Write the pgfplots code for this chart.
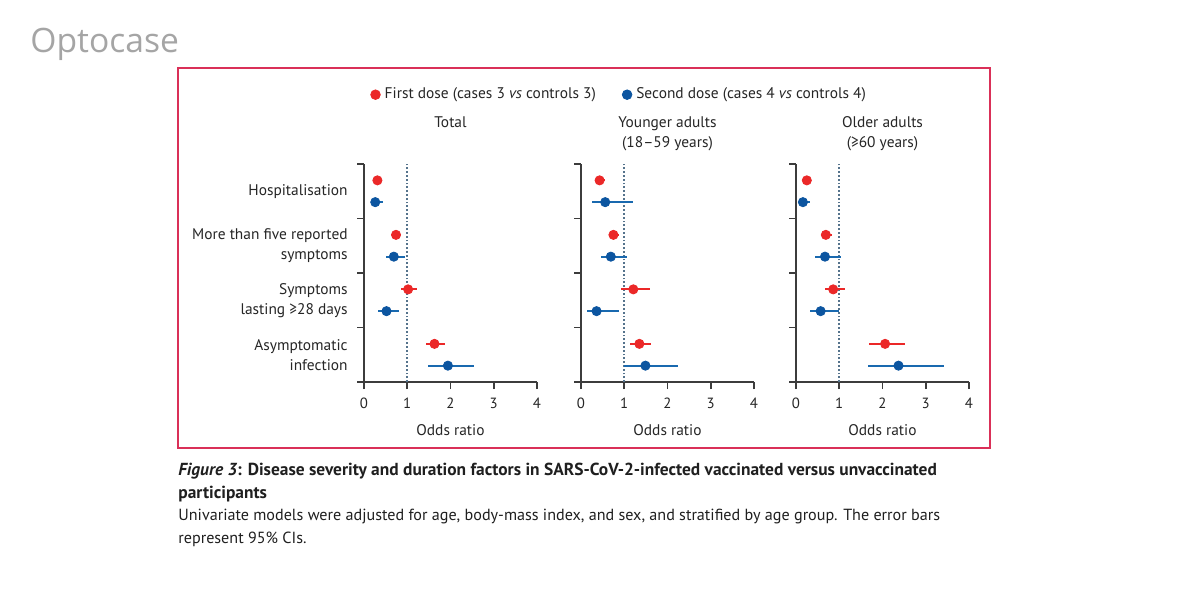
\documentclass[border=0pt]{standalone}
\usepackage{fontspec}
\setmainfont{PT Sans}
\newfontfamily\logofont{Open Sans}
\usepackage{pgfplots}
\pgfplotsset{compat=1.18}
\usepackage{pgfplotstable}
\definecolor{lred}{RGB}{235,40,40}
\definecolor{lblue}{RGB}{12,85,160}
\definecolor{lblueeb}{RGB}{25,105,175}
\definecolor{refline}{RGB}{85,115,140}
\definecolor{framecol}{RGB}{218,48,88}
\definecolor{axisgray}{RGB}{60,60,60}
\definecolor{logogray}{RGB}{165,165,165}
\newcommand\fs{\fontsize{7.7pt}{10pt}\selectfont}
\newcommand\fst{\fontsize{7.4pt}{10pt}\selectfont}

% y: first dose at 4-(i+0.3), second dose at 4-(i+0.7)
% columns: y, estimate, minus, plus
\pgfplotstableread{
y x lo hi
3.7 0.31 0.05 0.05
2.7 0.74 0.08 0.08
1.7 1.02 0.17 0.21
0.7 1.63 0.20 0.24
}\totA
\pgfplotstableread{
y x lo hi
3.3 0.26 0.09 0.18
2.3 0.69 0.17 0.25
1.3 0.52 0.20 0.30
0.3 1.94 0.45 0.60
}\totB
\pgfplotstableread{
y x lo hi
3.7 0.43 0.11 0.13
2.7 0.75 0.09 0.14
1.7 1.21 0.28 0.38
0.7 1.35 0.21 0.27
}\youA
\pgfplotstableread{
y x lo hi
3.3 0.56 0.30 0.65
2.3 0.69 0.23 0.37
1.3 0.36 0.21 0.51
0.3 1.49 0.50 0.75
}\youB
\pgfplotstableread{
y x lo hi
3.7 0.25 0.06 0.06
2.7 0.69 0.11 0.15
1.7 0.86 0.18 0.28
0.7 2.06 0.38 0.45
}\oldA
\pgfplotstableread{
y x lo hi
3.3 0.16 0.07 0.16
2.3 0.67 0.23 0.36
1.3 0.57 0.25 0.43
0.3 2.37 0.70 1.05
}\oldB

\tikzset{catlabel/.style={anchor=east, align=right, font=\fs, text=black!85, inner sep=0pt, xshift=-8pt}}

\pgfplotsset{
  panel/.style={
    scale only axis, width=86.5pt, height=109pt,
    xmin=0, xmax=4, ymin=0, ymax=4,
    axis x line=bottom, axis y line=left,
    axis line style={-, axisgray, line width=0.9pt},
    xtick={0,1,2,3,4}, ytick={0,1,2,3,4}, yticklabels={},
    tick align=outside, major tick length=3.5pt,
    tick style={axisgray, line width=0.9pt},
    /pgf/number format/assume math mode=true,
    ticklabel style={font=\fst, text=black!85},
    xticklabel style={yshift=-1pt},
    xlabel={Odds ratio},
    xlabel style={at={(0.5,0)}, anchor=base, yshift=-26.5pt, font=\fs, text=black!85},
    title style={at={(0.5,1)}, anchor=north, yshift=18pt, align=center, inner sep=0pt, font=\fs, text=black!85},
    clip=false,
  },
  firstdose/.style={only marks, mark=*, mark size=2.3pt, color=lred,
    mark options={fill=lred, draw=none},
    error bars/.cd, x dir=both, x explicit, error mark=none,
    error bar style={line width=1pt, lred}},
  seconddose/.style={only marks, mark=*, mark size=2.3pt, color=lblue,
    mark options={fill=lblue, draw=none},
    error bars/.cd, x dir=both, x explicit, error mark=none,
    error bar style={line width=1pt, lblueeb}},
}

\begin{document}
\begin{tikzpicture}[x=0.5pt, y=-0.5pt]
\fill[white] (0,0) rectangle (1200,600);
\path[use as bounding box] (0,0) rectangle (1200,600);

% logo
\node[anchor=base west, inner sep=0pt, text=logogray, font=\logofont\fontsize{16.8pt}{18pt}\selectfont] at (30,52) {Optocase};

% frame
\draw[framecol, line width=1pt] (178,68) rectangle (990,448);

% Panel 1: Total
\begin{axis}[panel, at={(182pt,-191pt)}, anchor=south west, title={Total}]
\addplot[refline, densely dotted, line width=0.9pt, forget plot] coordinates {(1,0) (1,4)};
\addplot[firstdose] table[x=x, y=y, x error minus=lo, x error plus=hi] {\totA};
\addplot[seconddose] table[x=x, y=y, x error minus=lo, x error plus=hi] {\totB};
\node[catlabel] at (rel axis cs:0,0.875) {Hospitalisation};
\node[catlabel] at (rel axis cs:0,0.625) {More than five reported\\symptoms};
\node[catlabel] at (rel axis cs:0,0.375) {Symptoms\\lasting ≥28 days};
\node[catlabel] at (rel axis cs:0,0.125) {Asymptomatic\\infection};
\end{axis}

% Panel 2: Younger adults
\begin{axis}[panel, at={(290.5pt,-191pt)}, anchor=south west, title={Younger adults\\(18–59 years)},
  legend style={at={(0.226,1.318)}, anchor=center, draw=none, fill=none, legend columns=2,
    font=\fs, text=black!85, inner sep=0pt,
    /tikz/every even column/.append style={column sep=11pt}},
  legend image code/.code={\fill[#1] (0pt,0pt) circle (2.4pt);}]
\addplot[refline, densely dotted, line width=0.9pt, forget plot] coordinates {(1,0) (1,4)};
\addplot[firstdose] table[x=x, y=y, x error minus=lo, x error plus=hi] {\youA};
\addlegendentry{First dose (cases 3 \textit{vs} controls 3)}
\addplot[seconddose] table[x=x, y=y, x error minus=lo, x error plus=hi] {\youB};
\addlegendentry{Second dose (cases 4 \textit{vs} controls 4)}
\end{axis}

% Panel 3: Older adults
\begin{axis}[panel, at={(398pt,-191pt)}, anchor=south west, title={Older adults\\(≥60 years)}]
\addplot[refline, densely dotted, line width=0.9pt, forget plot] coordinates {(1,0) (1,4)};
\addplot[firstdose] table[x=x, y=y, x error minus=lo, x error plus=hi] {\oldA};
\addplot[seconddose] table[x=x, y=y, x error minus=lo, x error plus=hi] {\oldB};
\end{axis}

% caption
\begin{scope}[every node/.style={anchor=base west, inner sep=0pt, text=black!88}]
\node[font=\fontsize{8.7pt}{10pt}\selectfont] at (178,475) {\textbf{\textit{Figure 3}: Disease severity and duration factors in SARS-CoV-2-infected vaccinated versus unvaccinated}};
\node[font=\fontsize{8.7pt}{10pt}\selectfont] at (178,498) {\textbf{participants}};
\node[font=\fontsize{8.06pt}{10pt}\selectfont] at (178,520) {Univariate models were adjusted for age, body-mass index, and sex, and stratified by age group. The error bars};
\node[font=\fontsize{8.06pt}{10pt}\selectfont] at (178,543) {represent 95\% CIs.};
\end{scope}
\end{tikzpicture}
\end{document}
